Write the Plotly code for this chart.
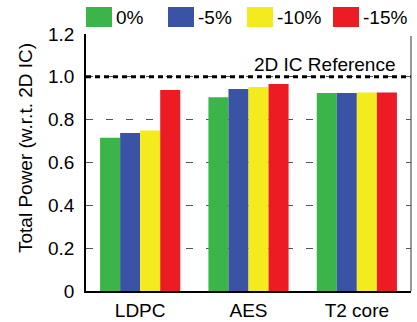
import plotly.graph_objects as go

# Designs and scaling cases
categories = ["LDPC", "AES", "T2 core"]
series_names = ["0%", "-5%", "-10%", "-15%"]
power_0 = [0.715, 0.905, 0.925]
power_m5 = [0.738, 0.943, 0.925]
power_m10 = [0.750, 0.953, 0.927]
power_m15 = [0.938, 0.966, 0.927]
reference_level = 1.0
y_tick_vals = [0, 0.2, 0.4, 0.6, 0.8, 1.0, 1.2]
y_tick_text = ["0", "0.2", "0.4", "0.6", "0.8", "1.0", "1.2"]

colors = ["#3BB54A", "#3A53A4", "#F4EB1F", "#ED1C24"]
FONT = "Liberation Sans"

W, H = 417, 322
ML, MR, MT, MB = 86, 6, 34, 31
PW, PH = W - ML - MR, H - MT - MB


def px_x(px):
    return (px - ML) / PW


def px_y(py):
    return (H - MB - py) / PH


fig = go.Figure()
for name, vals, col in zip(series_names,
                           [power_0, power_m5, power_m10, power_m15], colors):
    fig.add_trace(go.Bar(x=categories, y=vals, name=name,
                         marker=dict(color=col, line=dict(width=0)),
                         showlegend=False))

shapes = [
    # dashed reference line at 1.0
    dict(type="line", xref="paper", yref="y", x0=0, x1=1,
         y0=reference_level, y1=reference_level,
         line=dict(color="black", width=3, dash="5px,4px")),
    # right frame edge
    dict(type="line", xref="paper", yref="paper", x0=1, x1=1, y0=0, y1=px_y(36),
         line=dict(color="#555555", width=1.2)),
]

annotations = [
    dict(text="2D IC Reference", xref="paper", yref="y",
         x=px_x(398), y=reference_level, xanchor="right", yanchor="bottom",
         showarrow=False, font=dict(family=FONT, size=19, color="black")),
    dict(text="Total Power (w.r.t. 2D IC)", xref="paper", yref="paper",
         x=px_x(25), y=px_y(148), xanchor="center", yanchor="middle",
         textangle=-90, showarrow=False,
         font=dict(family=FONT, size=19, color="black")),
]

# legend: coloured boxes with labels across the top
box_left = [86, 168, 247, 333]
for name, col, bx in zip(series_names, colors, box_left):
    shapes.append(dict(type="rect", xref="paper", yref="paper",
                       x0=px_x(bx), x1=px_x(bx + 26), y0=px_y(27), y1=px_y(7),
                       fillcolor=col, line=dict(width=0)))
    annotations.append(dict(text=name, xref="paper", yref="paper",
                            x=px_x(bx + 28), y=px_y(17), xanchor="left",
                            yanchor="middle", showarrow=False,
                            font=dict(family=FONT, size=19, color="black")))

fig.update_layout(
    width=W, height=H,
    margin=dict(l=ML, r=MR, t=MT, b=MB, pad=0, autoexpand=False),
    paper_bgcolor="white", plot_bgcolor="white",
    barmode="group", bargap=0.26, bargroupgap=0,
    font=dict(family=FONT, size=19, color="black"),
    shapes=shapes, annotations=annotations,
    xaxis=dict(showline=True, linecolor="black", linewidth=1.5,
               ticks="", showgrid=False, tickfont=dict(size=19),
               ticklabelstandoff=1, automargin=False, fixedrange=True),
    yaxis=dict(range=[0, 1.2], tickvals=y_tick_vals, ticktext=y_tick_text,
               showline=True, linecolor="black", linewidth=1.5,
               ticks="", showgrid=True, gridcolor="#555555", gridwidth=1.3,
               griddash="7px,13px", zeroline=False, ticklabelstandoff=6,
               tickfont=dict(size=19), automargin=False, fixedrange=True),
)

fig.write_html("out.html")
